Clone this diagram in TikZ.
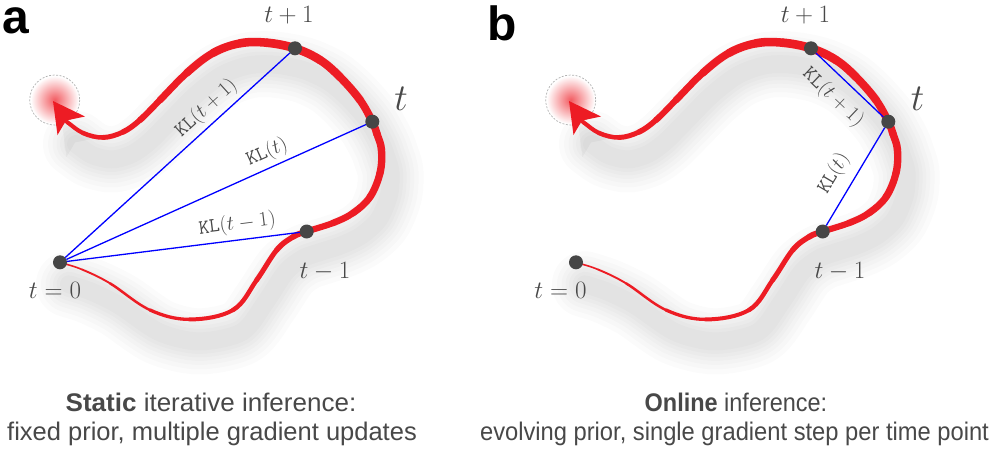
\RequirePackage{fix-cm}
\documentclass[tikz,border=0pt]{standalone}
\usepackage{fontspec}
\newfontfamily\capfont{Liberation Sans}
\usetikzlibrary{calc}
\definecolor{trajred}{RGB}{237,28,36}
\definecolor{dotgray}{RGB}{70,70,70}
\definecolor{labelgray}{RGB}{72,72,72}
\definecolor{klblue}{RGB}{0,0,255}
\newcommand\trajpath{plot[smooth,tension=0.5] coordinates {(60,262.3) (82,269.5) (110,283.3) (150,310) (190,319.4) (233,310) (256.7,280) (276.7,250) (293.3,236.7) (306.7,231.5) (333,223) (353,213) (370,197) (380,173) (381.5,150) (377,134) (372.3,121.7) (360,100) (340,77) (320,60) (295,48.3) (266.7,42.7) (240,43.3) (213,53) (186.7,73) (160,100) (140,120) (123,132) (103,137.5) (83,133) (67,122)}}
\newcommand\trajpanel[2]{%
  \begin{scope}[shift={(#2+9,22)}]
    \foreach \w in {66,56,47,39,32,25,18}{%
      \draw[black, opacity=0.016, line width=\w pt, line cap=round, line join=round] \trajpath;}
    \fill[black, opacity=0.03] (53,101) -- (85,116.5) -- (66,120.5) -- (57.5,135) -- cycle;
  \end{scope}
  \shade[inner color=trajred!72, outer color=white] (54.7+#2,100) circle[radius=24];
  \draw[gray!60, dash pattern=on 2pt off 1.5pt, line width=0.7pt] (54.7+#2,100) circle[radius=25];
  \foreach \x/\y [count=\i] in {60/262.3, 82/269.5, 110/283.3, 150/310, 190/319.4, 233/310, 256.7/280, 276.7/250, 293.3/236.7, 306.7/231.5, 333/223, 353/213, 370/197, 380/173, 381.5/150, 377/134, 372.3/121.7, 360/100, 340/77, 320/60, 295/48.3, 266.7/42.7, 240/43.3, 213/53, 186.7/73, 160/100, 140/120, 123/132, 103/137.5, 83/133, 67/122}{%
    \coordinate (q\i) at (\x+#2,\y);}
  \coordinate (q0) at ($(q1)!-1!(q2)$);
  \coordinate (q32) at ($(q31)!-1!(q30)$);
  \foreach \i/\w in {1/1.6, 2/1.9, 3/2.5, 4/3.3, 5/4.0, 6/4.5, 7/5.0, 8/5.45, 9/5.8, 10/6.2, 11/6.6, 12/6.95, 13/7.2, 14/7.35, 15/7.45, 16/7.55, 17/7.75, 18/8.05, 19/8.35, 20/8.6, 21/8.7, 22/8.55, 23/8.2, 24/7.65, 25/6.9, 26/6.15, 27/5.5, 28/4.95, 29/4.5, 30/4.15}{%
    \pgfmathtruncatemacro\ip{\i-1}%
    \pgfmathtruncatemacro\inx{\i+1}%
    \pgfmathtruncatemacro\inn{\i+2}%
    \draw[trajred, line width=\w pt, line cap=round]
      (q\i) .. controls ($(q\i)+0.17*(q\inx)-0.17*(q\ip)$) and ($(q\inx)-0.17*(q\inn)+0.17*(q\i)$) .. (q\inx);}
  \begin{scope}[shift={(#2,0)}]
    \fill[trajred] (53,101) -- (85,116.5) -- (66,120.5) -- (57.5,135) -- cycle;
  \end{scope}
  \node[dotnode] (#1t0) at (60+#2,262.3) {};
  \node[dotnode] (#1tm) at (306.7+#2,231.5) {};
  \node[dotnode] (#1tt) at (372.3+#2,121.7) {};
  \node[dotnode] (#1tp) at (295+#2,48.3) {};
}
\begin{document}
\begin{tikzpicture}[x=1pt,y=-1pt,
  dotnode/.style={circle, fill=dotgray, minimum size=14pt, inner sep=0pt, outer sep=0pt},
  bluelink/.style={draw=klblue, line width=1.3pt},
  kllabel/.style={sloped, text=labelgray, font=\fontsize{20.5}{22}\selectfont},
  tlabel/.style={text=labelgray, font=\fontsize{25}{28}\selectfont, inner sep=0pt},
  biglabel/.style={text=labelgray, font=\fontsize{38}{40}\selectfont, inner sep=0pt},
  captiontext/.style={text=labelgray, font=\capfont\fontsize{25.5}{28}\selectfont, inner sep=0pt, anchor=base, transform shape},
  panelletter/.style={text=black, font=\capfont\bfseries\fontsize{48}{50}\selectfont, inner sep=0pt, anchor=base west}
]
\useasboundingbox (0,0) rectangle (997,451);
\fill[white] (0,0) rectangle (997,451);

% panel a
\trajpanel{a}{0}
\draw[bluelink] (at0) -- node[kllabel, above, inner sep=4.5pt, pos=0.674] {\texttt{KL}$(t+1)$} (atp);
\draw[bluelink] (at0) -- node[kllabel, above, inner sep=4.5pt, pos=0.691] {\texttt{KL}$(t)$} (att);
\draw[bluelink] (at0) -- node[kllabel, above, inner sep=5pt, pos=0.74] {\texttt{KL}$(t-1)$} (atm);
\node[tlabel] (lap) at (289,15) {$t+1$};
\node[biglabel] (lat) at (401,99) {$t$};
\node[tlabel] (lam) at (325,271) {$t-1$};
\node[tlabel] (la0) at (55,290) {$t=0$};

% panel b
\trajpanel{b}{516}
\draw[bluelink] (btp) -- node[kllabel, below, inner sep=9.5pt, pos=0.464] {\texttt{KL}$(t+1)$} (btt);
\draw[bluelink] (btm) -- node[kllabel, above, inner sep=9.5pt, pos=0.425] {\texttt{KL}$(t)$} (btt);
\node[tlabel] (lbp) at (805.5,15) {$t+1$};
\node[biglabel] (lbt) at (917.5,99) {$t$};
\node[tlabel] (lbm) at (840,271) {$t-1$};
\node[tlabel] (lb0) at (560.5,290) {$t=0$};

% letters
\node[panelletter] (pa) at (2,33.5) {a};
\node[panelletter] (pb) at (487,40) {b};

% captions
\node[captiontext, xscale=1.02] (ca1) at (211,411.7) {\textbf{Static} iterative inference:};
\node[captiontext] (ca2) at (212,440) {fixed prior, multiple gradient updates};
\node[captiontext, xscale=0.92] (cb1) at (736,411.7) {\textbf{Online} inference:};
\node[captiontext, xscale=0.93] (cb2) at (734.5,440) {evolving prior, single gradient step per time point};
\end{tikzpicture}
\end{document}
